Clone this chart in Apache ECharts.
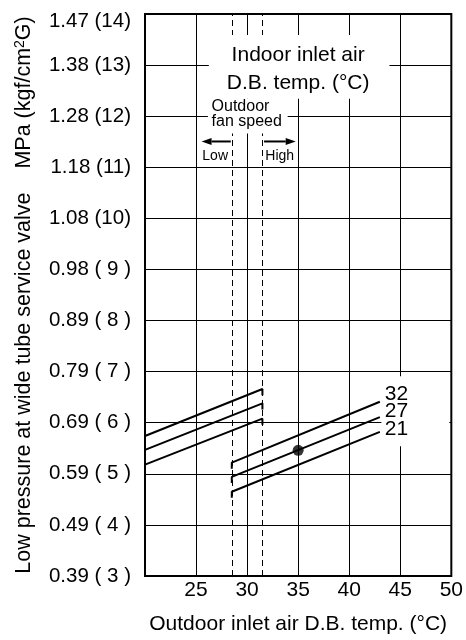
<!DOCTYPE html>
<html>
<head>
<meta charset="utf-8">
<script src="https://cdn.jsdelivr.net/npm/echarts@6/dist/echarts.min.js"></script>
<style>
  html, body { margin: 0; padding: 0; background: #fff; }
  #chart { width: 466px; height: 640px; }
</style>
</head>
<body>
<div id="chart"></div>
<script>
const FONT = '"Liberation Sans", Arial, Helvetica, sans-serif';

// Outdoor inlet air D.B. temperature axis (°C)
const xMin = 20, xMax = 50, xStep = 5;

// Low pressure axis: kgf/cm2G ticks and their MPa (kgf/cm2G) labels
const yTicksKgf = [3, 4, 5, 6, 7, 8, 9, 10, 11, 12, 13, 14];
const yTickLabels = ['0.39 ( 3 )', '0.49 ( 4 )', '0.59 ( 5 )', '0.69 ( 6 )', '0.79 ( 7 )',
  '0.89 ( 8 )', '0.98 ( 9 )', '1.08 (10)', '1.18 (11)', '1.28 (12)', '1.38 (13)', '1.47 (14)'];

// Indoor inlet air D.B. temperatures (°C), one curve each
const indoorTemps = ['32', '27', '21'];

// Low outdoor fan speed: [outdoor °C, kgf/cm2G]
const lowFan32 = [[20, 5.74], [31.5, 6.66], [31.5, 6.54]];
const lowFan27 = [[20, 5.47], [31.5, 6.38], [31.5, 6.26]];
const lowFan21 = [[20, 5.18], [31.5, 6.08], [31.5, 5.96]];

// High outdoor fan speed: [outdoor °C, kgf/cm2G]
const highFan32 = [[28.5, 5.10], [28.5, 5.22], [43, 6.41]];
const highFan27 = [[28.5, 4.82], [28.5, 4.94], [43, 6.11]];
const highFan21 = [[28.5, 4.53], [28.5, 4.65], [43, 5.82]];

// Outdoor temperatures where the fan speed switches (°C)
const fanSwitchTemps = [28.5, 31.5];

// Rating point on the 27 °C curve
const ratingPoint = [[35, 5.46]];

const chart = echarts.init(document.getElementById('chart'), null, { renderer: 'canvas' });

const black = '#000';
const curveStyle = { color: black, width: 2 };
const labelOffsets = [[0, -8], [0, -6], [0, -2.5]];

function curve(data) {
  return {
    type: 'line', data: data, symbol: 'none', silent: true, z: 3,
    lineStyle: curveStyle, itemStyle: { color: black }, animation: false
  };
}

const lowSets = [lowFan32, lowFan27, lowFan21];
const highSets = [highFan32, highFan27, highFan21];

const series = [];
lowSets.forEach(d => series.push(curve(d)));
highSets.forEach((d, k) => {
  const s = curve(d);
  s.endLabel = {
    show: true, distance: 5, offset: labelOffsets[k],
    formatter: () => indoorTemps[k],
    color: black, fontSize: 21, fontFamily: FONT
  };
  series.push(s);
});

// Rating point plus the dashed fan-speed switching limits
series.push({
  type: 'scatter', data: ratingPoint, symbol: 'circle', symbolSize: 11,
  itemStyle: { color: black }, silent: true, z: 4, animation: false,
  markLine: {
    silent: true, symbol: 'none', animation: false,
    label: { show: false },
    lineStyle: { color: black, width: 1, type: [6, 4] },
    data: fanSwitchTemps.map(v => ({ xAxis: v }))
  }
});

chart.setOption({
  animation: false,
  backgroundColor: '#fff',
  grid: {
    left: 145, top: 14, width: 307, height: 563,
    show: true, borderColor: black, borderWidth: 2, backgroundColor: 'transparent'
  },
  xAxis: {
    type: 'value', min: xMin, max: xMax, interval: xStep,
    axisLine: { show: false }, axisTick: { show: false },
    splitLine: { show: true, lineStyle: { color: black, width: 1 } },
    axisLabel: { showMinLabel: false, color: black, fontSize: 21, fontFamily: FONT, margin: 4 },
    name: 'Outdoor inlet air D.B. temp. (°C)',
    nameLocation: 'middle', nameGap: 38,
    nameTextStyle: { color: black, fontSize: 21, fontFamily: FONT }
  },
  yAxis: {
    type: 'value', min: yTicksKgf[0], max: yTicksKgf[yTicksKgf.length - 1], interval: 1,
    axisLine: { show: false }, axisTick: { show: false },
    splitLine: { show: true, lineStyle: { color: black, width: 1 } },
    axisLabel: {
      color: black, fontSize: 20.5, fontFamily: FONT, margin: 14,
      formatter: v => {
        const s = yTickLabels[yTicksKgf.indexOf(v)];
        return v === yTicksKgf[yTicksKgf.length - 1] ? '{top|' + s + '}' : s;
      },
      rich: { top: { color: black, fontSize: 20.5, fontFamily: FONT, padding: [15, 0, 0, 0] } }
    },
    name: '{t|Low pressure at wide tube service valve}{t|    MPa (kgf/cm}{s|2}{t|G)}',
    nameLocation: 'middle', nameGap: 110,
    nameTextStyle: {
      color: black, fontSize: 21.5, fontFamily: FONT,
      rich: {
        t: { color: black, fontSize: 21.5, fontFamily: FONT },
        s: { color: black, fontSize: 14, fontFamily: FONT, verticalAlign: 'top' }
      }
    }
  },
  series: series
});

// Annotation boxes and arrows, anchored in data coordinates
const P = (x, y) => chart.convertToPixel({ gridIndex: 0 }, [x, y]);
function box(x0, y0, x1, y1, z) {
  const a = P(x0, y0), b = P(x1, y1);
  return {
    type: 'rect', z: z, silent: true,
    shape: { x: a[0], y: a[1], width: b[0] - a[0], height: b[1] - a[1] },
    style: { fill: '#fff' }
  };
}
function label(x, y, text, size, align, lineHeight) {
  const a = P(x, y);
  return {
    type: 'text', z: 6, silent: true, x: a[0], y: a[1],
    style: {
      text: text, fill: black, fontSize: size, fontFamily: FONT,
      align: align, verticalAlign: 'middle', lineHeight: lineHeight || size
    }
  };
}
function arrow(xTail, xTip, y) {
  const t = P(xTail, y), h = P(xTip, y);
  const dir = Math.sign(h[0] - t[0]);
  const headLen = 10, headHalf = 3.5;
  return [
    { type: 'line', z: 6, silent: true,
      shape: { x1: t[0], y1: t[1], x2: h[0] - dir * headLen, y2: h[1] },
      style: { stroke: black, lineWidth: 2 } },
    { type: 'polygon', z: 6, silent: true,
      shape: { points: [[h[0], h[1]], [h[0] - dir * headLen, h[1] - headHalf], [h[0] - dir * headLen, h[1] + headHalf]] },
      style: { fill: black } }
  ];
}

chart.setOption({
  graphic: [
    box(26.25, 13.59, 43.94, 12.34, 5),
    box(26.16, 12.34, 33.97, 11.66, 5),
    box(43.15, 6.91, 49.8, 5.54, 1),
    label(35, 12.914, 'Indoor inlet air\nD.B. temp. (°C)', 21, 'center', 28),
    label(26.52, 12.04, 'Outdoor\nfan speed', 16, 'left', 14.7),
    label(26.87, 11.21, 'Low', 14, 'center'),
    label(33.19, 11.21, 'High', 14, 'center'),
    ...arrow(28.4, 25.54, 11.505),
    ...arrow(31.66, 34.76, 11.505)
  ]
});
</script>
</body>
</html>
